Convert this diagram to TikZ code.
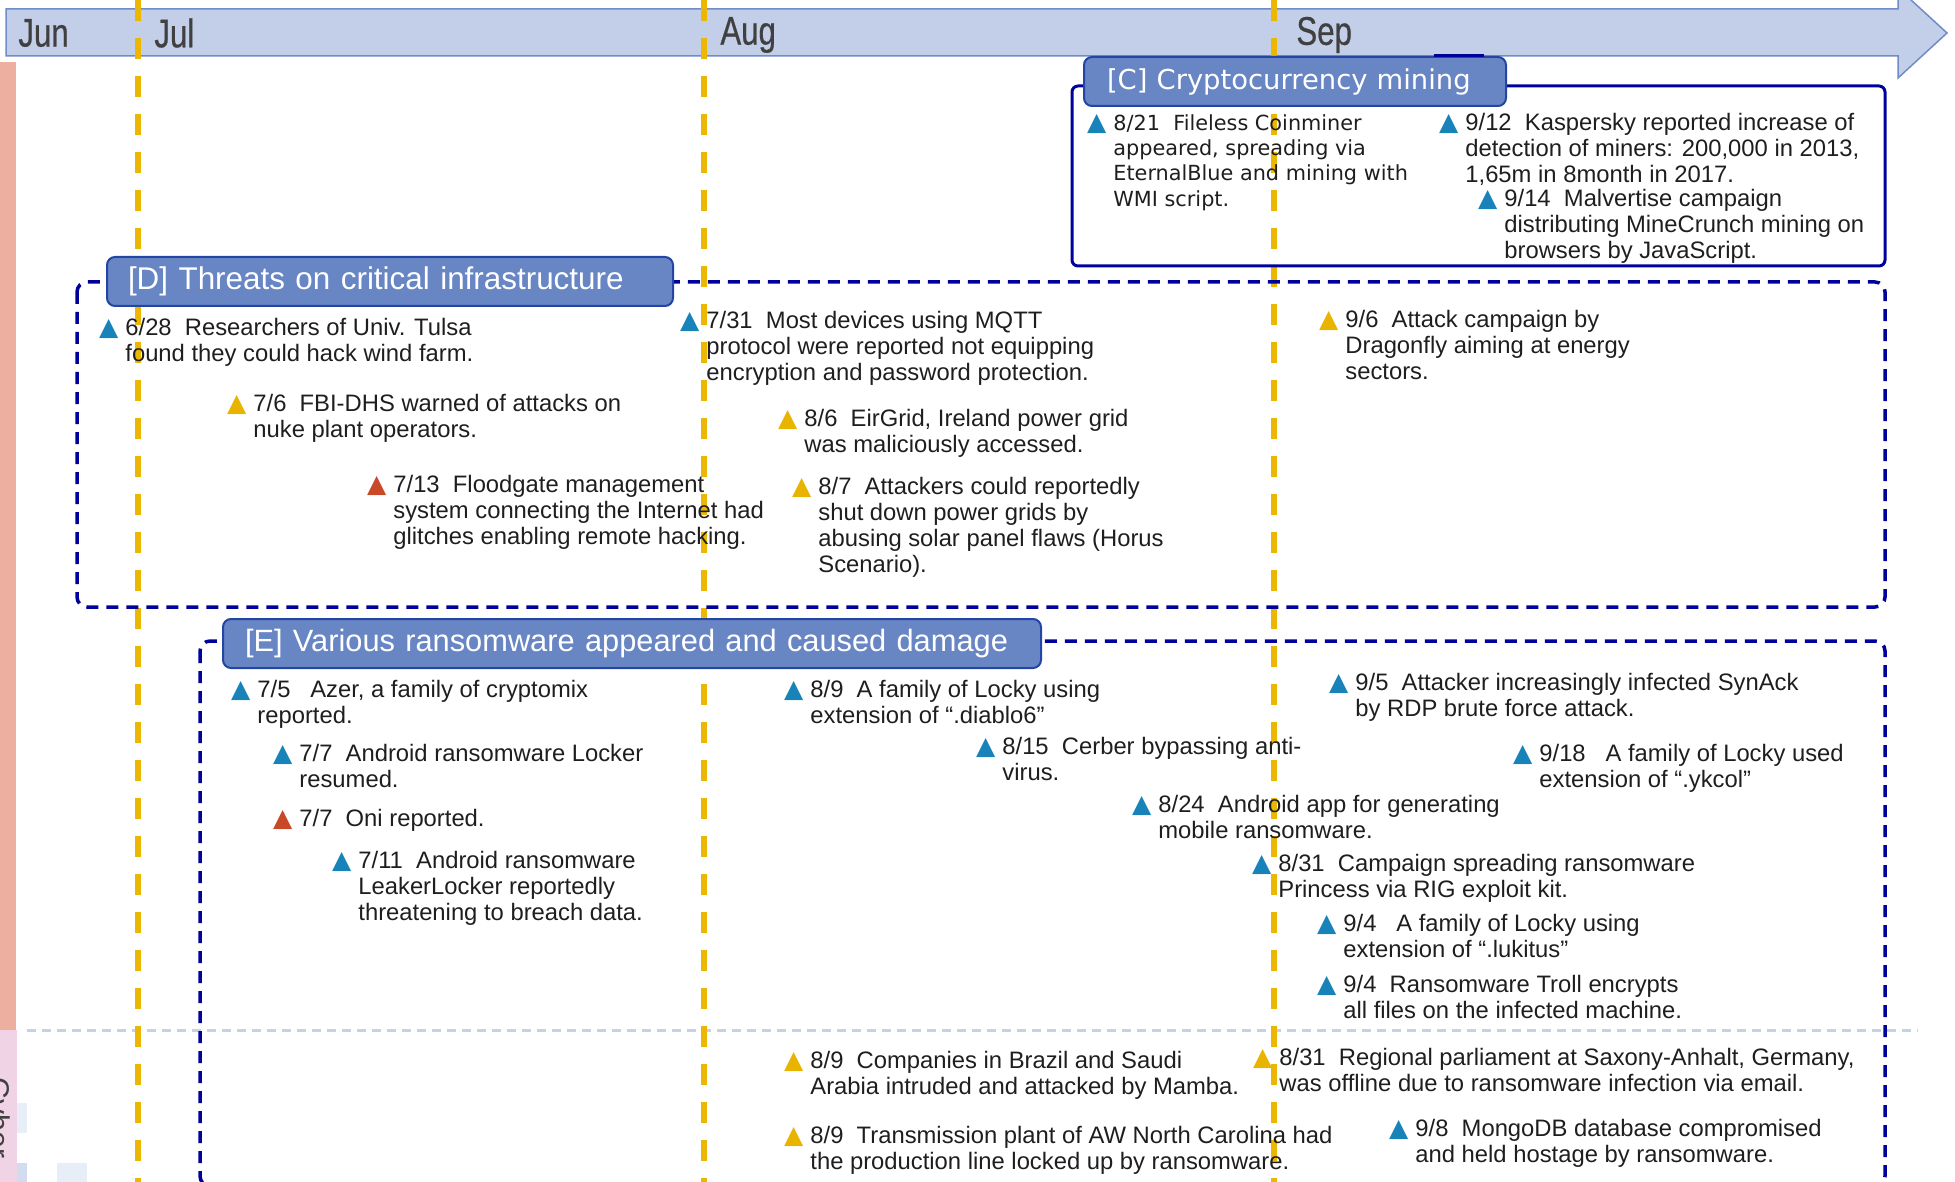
\documentclass[tikz,border=0pt]{standalone}
\usepackage{fontspec}
\setmainfont{Liberation Sans}
\newfontfamily\meiryo{DejaVu Sans}
\newfontfamily\trifont{DejaVu Sans}
\newfontfamily\monthfont[FakeStretch=0.78, FakeBold=0.6]{Liberation Sans}
\definecolor{ink}{RGB}{30,30,30}
\definecolor{monthgray}{RGB}{64,64,64}
\definecolor{bandfill}{RGB}{195,207,232}
\definecolor{banddraw}{RGB}{110,140,200}
\definecolor{gold}{RGB}{235,183,0}
\definecolor{tabfill}{RGB}{104,133,196}
\definecolor{tabdraw}{RGB}{35,70,165}
\definecolor{boxblue}{RGB}{0,0,155}
\definecolor{salmon}{RGB}{237,176,160}
\definecolor{pinkish}{RGB}{240,212,230}
\definecolor{sepgray}{RGB}{197,209,234}
\definecolor{paleblue}{RGB}{231,238,248}
\definecolor{lightblue}{RGB}{209,221,239}
\definecolor{tblue}{RGB}{23,131,184}
\definecolor{tyellow}{RGB}{232,180,0}
\definecolor{tred}{RGB}{200,72,40}
\newcommand{\evmark}[1]{\llap{{\trifont\fontsize{12.5}{12.5}\selectfont\color{#1}▲}\hspace{3.5pt}}\strut}
\usetikzlibrary{positioning}

\begin{document}
\begin{tikzpicture}[x=0.5pt, y=-0.5pt,
  evt/.style={anchor=north west, align=left, inner sep=0pt, text=ink, font=\fontsize{11.9}{13}\selectfont},
  evtc/.style={evt, font=\meiryo\fontsize{10.4}{12.7}\selectfont},
  month/.style={anchor=west, inner sep=0pt, text=monthgray, font=\monthfont\fontsize{20}{20}\selectfont},
  tab/.style={anchor=north west, draw=tabdraw, fill=tabfill, line width=1pt, rounded corners=4pt, text=white, align=left, inner ysep=0pt, minimum height=24.5pt, font=\fontsize{15.7}{18}\selectfont},
  cbox/.style={draw=boxblue, line width=1.5pt, rounded corners=3pt},
  dbox/.style={draw=boxblue, line width=1.75pt, rounded corners=5pt, dash pattern=on 6pt off 4pt},
  month line/.style={draw=gold, line width=3pt, dash pattern=on 10.5pt off 8.5pt}]
  \useasboundingbox (0,0) rectangle (1955,1182);

  \fill[salmon] (0,62) rectangle (16,1030);
  \fill[pinkish] (0,1030) rectangle (17,1182);
  \fill[paleblue] (17,1103) rectangle (27,1133);
  \fill[lightblue] (17,1163) rectangle (27,1182);
  \fill[paleblue] (57,1163) rectangle (87,1182);
  \node[rotate=-90, text=monthgray, font=\fontsize{15}{15}\selectfont] (cyb) at (-4,1118) {Cyber};
  \draw[sepgray, line width=1.5pt, dash pattern=on 4.5pt off 3pt] (27,1030) -- (1918,1030);

  \filldraw[fill=bandfill, draw=banddraw, line width=0.75pt] (6,9) -- (1898,9) -- (1898,-12) -- (1947,33) -- (1898,78) -- (1898,56) -- (6,56) -- cycle;

  \draw[month line] (138,0) -- (138,1182);
  \draw[month line] (704,0) -- (704,1182);
  \draw[month line] (1274,0) -- (1274,1182);

  \node[month] (Jun) at (18,33) {Jun};
  \node[month] (Jul) at (154,33) {Jul};
  \node[month] (Aug) at (720,35) {Aug};
  \node[month] (Sep) at (1296,35) {Sep};

  \draw[cbox] (1072,86) rectangle (1885,266);
  \draw[dbox] (77,282) rectangle (1885,607);
  \draw[dbox] (200,641) rectangle (1885,1186);

  \node[tab, text width=188pt, inner xsep=11.5pt, font=\meiryo\fontsize{13.7}{16}\selectfont] (tabC) at (1083,56) {[C] Cryptocurrency mining};
  \draw[boxblue, line width=1.5pt] (1434,56) -- (1484,56);
  \node[tab, text width=262pt, inner xsep=10.5pt] (tabD) at (106,256) {[D] Threats on critical infrastructure};
  \node[tab, text width=387pt, inner xsep=11pt, font=\fontsize{15.4}{18}\selectfont] (tabE) at (222,618) {[E] Various ransomware appeared and caused damage};

  \node[evtc] (C_1) at (1113,112) {\evmark{tblue}8/21~~Fileless Coinminer\\appeared, spreading via\\EternalBlue and mining with\\WMI script.};
  \node[evt] (C_2) at (1465,112) {\evmark{tblue}9/12~~Kaspersky reported increase of\\detection of miners: 200,000 in 2013,\\1,65m in 8month in 2017.};
  \node[evt] (C_3) at (1504,188) {\evmark{tblue}9/14~~Malvertise campaign\\distributing MineCrunch mining on\\browsers by JavaScript.};

  \node[evt] (D_1) at (125,317) {\evmark{tblue}6/28~~Researchers of Univ. Tulsa\\found they could hack wind farm.};
  \node[evt] (D_2) at (253,393) {\evmark{tyellow}7/6~~FBI-DHS warned of attacks on\\nuke plant operators.};
  \node[evt] (D_3) at (393,474) {\evmark{tred}7/13~~Floodgate management\\system connecting the Internet had\\glitches enabling remote hacking.};
  \node[evt] (D_4) at (706,310) {\evmark{tblue}7/31~~Most devices using MQTT\\protocol were reported not equipping\\encryption and password protection.};
  \node[evt] (D_5) at (804,408) {\evmark{tyellow}8/6~~EirGrid, Ireland power grid\\was maliciously accessed.};
  \node[evt] (D_6) at (818,476) {\evmark{tyellow}8/7~~Attackers could reportedly\\shut down power grids by\\abusing solar panel flaws (Horus\\Scenario).};
  \node[evt] (D_7) at (1345,309) {\evmark{tyellow}9/6~~Attack campaign by\\Dragonfly aiming at energy\\sectors.};

  \node[evt] (E_1) at (257,679) {\evmark{tblue}7/5~~~Azer, a family of cryptomix\\reported.};
  \node[evt] (E_2) at (299,743) {\evmark{tblue}7/7~~Android ransomware Locker\\resumed.};
  \node[evt] (E_3) at (299,808) {\evmark{tred}7/7~~Oni reported.};
  \node[evt] (E_4) at (358,850) {\evmark{tblue}7/11~~Android ransomware\\LeakerLocker reportedly\\threatening to breach data.};
  \node[evt] (E_5) at (810,679) {\evmark{tblue}8/9~~A family of Locky using\\extension of “.diablo6”};
  \node[evt] (E_6) at (1002,736) {\evmark{tblue}8/15~~Cerber bypassing anti-\\virus.};
  \node[evt] (E_7) at (1158,794) {\evmark{tblue}8/24~~Android app for generating\\mobile ransomware.};
  \node[evt] (E_8) at (1278,853) {\evmark{tblue}8/31~~Campaign spreading ransomware\\Princess via RIG exploit kit.};
  \node[evt] (E_9) at (1343,913) {\evmark{tblue}9/4~~~A family of Locky using\\extension of “.lukitus”};
  \node[evt] (E_10) at (1343,974) {\evmark{tblue}9/4~~Ransomware Troll encrypts\\all files on the infected machine.};
  \node[evt] (E_11) at (1355,672) {\evmark{tblue}9/5~~Attacker increasingly infected SynAck\\by RDP brute force attack.};
  \node[evt] (E_12) at (1539,743) {\evmark{tblue}9/18~~~A family of Locky used\\extension of “.ykcol”};

  \node[evt] (F_1) at (810,1050) {\evmark{tyellow}8/9~~Companies in Brazil and Saudi\\Arabia intruded and attacked by Mamba.};
  \node[evt] (F_2) at (810,1125) {\evmark{tyellow}8/9~~Transmission plant of AW North Carolina had\\the production line locked up by ransomware.};
  \node[evt] (F_3) at (1279,1047) {\evmark{tyellow}8/31~~Regional parliament at Saxony-Anhalt, Germany,\\was offline due to ransomware infection via email.};
  \node[evt] (F_4) at (1415,1118) {\evmark{tblue}9/8~~MongoDB database compromised\\and held hostage by ransomware.};
\end{tikzpicture}
\end{document}
